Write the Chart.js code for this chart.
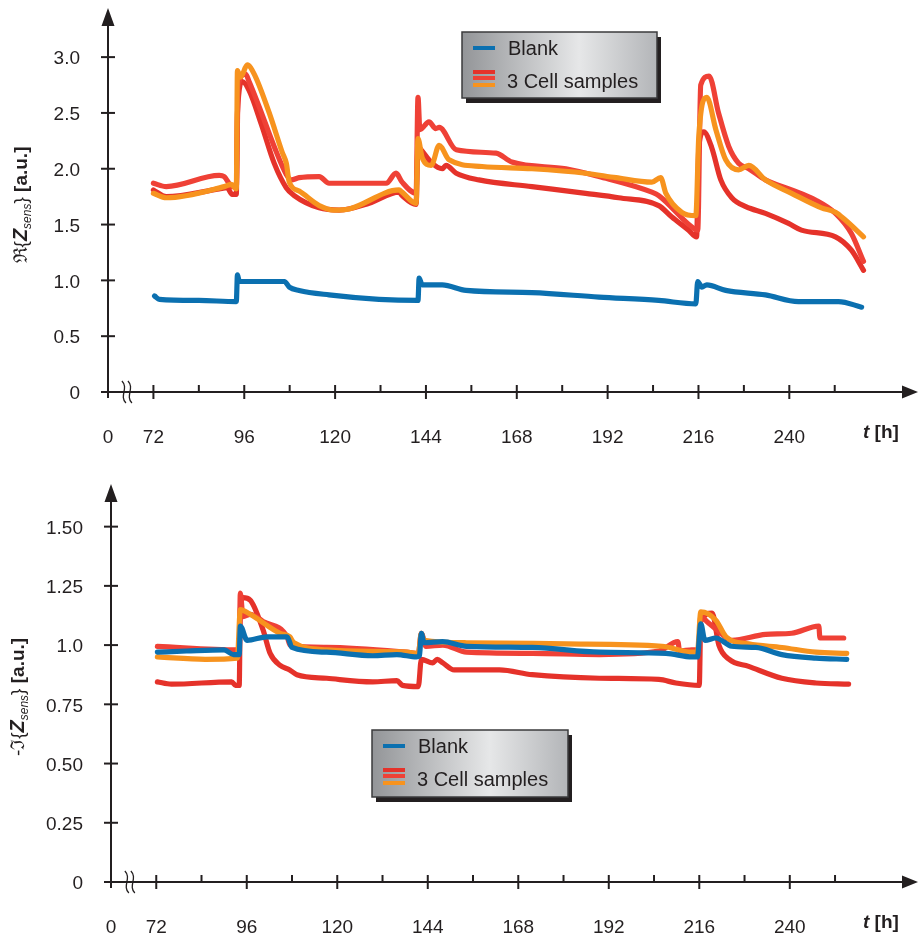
<!DOCTYPE html>
<html>
<head>
<meta charset="utf-8">
<title>Sensor impedance over time</title>
<script src="https://cdn.jsdelivr.net/npm/chart.js@4/dist/chart.umd.min.js"></script>
<style>
  body { margin: 0; background: #fff; }
  canvas { display: block; }
</style>
</head>
<body>
<canvas id="reChart" width="919" height="465"></canvas>
<canvas id="imChart" width="919" height="474"></canvas>
<script>
// axis ticks (hours), the "0" sits left of the axis break
const originHour = 60;
const hourTicks = [72, 96, 120, 144, 168, 192, 216, 240];
const minorHourTicks = [84, 108, 132, 156, 180, 204, 228, 252];
const reTicks = [0, 0.5, 1.0, 1.5, 2.0, 2.5, 3.0];
const reTickLabels = ["0", "0.5", "1.0", "1.5", "2.0", "2.5", "3.0"];
const imTicks = [0, 0.25, 0.5, 0.75, 1.0, 1.25, 1.5];
const imTickLabels = ["0", "0.25", "0.50", "0.75", "1.0", "1.25", "1.50"];
const seriesNames = ["Blank", "3 Cell samples"];

// real part
const reBlankT = [72.3, 73.6, 84, 93.9, 94.2, 94.7, 106.6, 107.9, 110.5, 118.4, 131.6, 141.9, 142.2, 143, 148.3, 154.6, 172, 189.7, 205.5, 215.3, 215.8, 216.9, 218.2, 223.2, 233.7, 242.4, 253, 259.1];
const reBlankV = [0.86, 0.83, 0.82, 0.81, 1.05, 0.99, 0.99, 0.94, 0.91, 0.87, 0.83, 0.82, 1.02, 0.96, 0.96, 0.91, 0.89, 0.85, 0.82, 0.79, 0.99, 0.94, 0.96, 0.91, 0.87, 0.81, 0.81, 0.76];

const reCellAT = [72, 75.4, 89.4, 90.7, 92.8, 93.9, 94.4, 96.3, 97.3, 100, 103.9, 107.1, 108.4, 110.5, 115.8, 118.4, 133.5, 136.1, 137.7, 141.4, 141.9, 142.4, 144.8, 146.6, 147.5, 152, 162.5, 166.7, 181, 189.7, 203.7, 205.5, 214.2, 215.8, 216.6, 218.8, 221.3, 224, 226.6, 229.3, 233.7, 240.6, 246.9, 252.2, 256.4, 259.6];
const reCellAV = [1.87, 1.84, 1.94, 1.93, 1.84, 1.84, 2.75, 2.85, 2.78, 2.55, 2.2, 1.95, 1.9, 1.92, 1.93, 1.87, 1.87, 1.96, 1.88, 1.78, 2.64, 2.35, 2.42, 2.36, 2.37, 2.17, 2.14, 2.06, 2.0, 1.93, 1.79, 1.76, 1.48, 1.45, 2.75, 2.83, 2.5, 2.2, 2.05, 2.0, 1.9, 1.81, 1.72, 1.6, 1.42, 1.17];

const reCellBT = [72, 75.4, 89.4, 91.5, 92.8, 93.9, 94.2, 95.5, 97.3, 100.5, 103.9, 107.1, 109.2, 115.8, 121.1, 129, 136.9, 137.7, 141.4, 141.9, 142.7, 145.6, 148.3, 149.3, 152, 158, 172, 186.2, 194.9, 205.5, 208.9, 213.4, 215.5, 216.1, 217.4, 219.5, 221.9, 224.8, 228.5, 233.7, 239.8, 243.2, 252.2, 256.4, 259.6];
const reCellBV = [1.81, 1.75, 1.82, 1.83, 1.77, 1.77, 2.5, 2.78, 2.7, 2.4, 2.05, 1.83, 1.76, 1.65, 1.63, 1.69, 1.79, 1.76, 1.68, 2.2, 2.17, 2.05, 2.0, 2.03, 1.96, 1.9, 1.84, 1.78, 1.74, 1.67, 1.57, 1.45, 1.39, 2.2, 2.33, 2.19, 1.9, 1.74, 1.66, 1.6, 1.51, 1.45, 1.39, 1.27, 1.09];

const reCellCT = [72, 75.4, 90.7, 92.6, 93.9, 94.2, 95, 96.8, 98.6, 102.6, 106, 107.1, 107.9, 110.5, 115.8, 119.8, 123.7, 136.9, 137.7, 141.4, 141.9, 143, 145.4, 147.5, 150.1, 158.8, 172, 186.2, 194.2, 203.7, 206, 207.4, 211.6, 215.3, 216.1, 218.2, 220.6, 223.2, 226.6, 229.3, 233.7, 240.6, 248.5, 252.2, 254.8, 259.6];
const reCellCV = [1.78, 1.74, 1.84, 1.86, 1.82, 2.88, 2.82, 2.93, 2.85, 2.5, 2.15, 2.05, 1.88, 1.8, 1.67, 1.63, 1.64, 1.81, 1.79, 1.69, 2.27, 2.1, 2.03, 2.21, 2.08, 2.02, 2.0, 1.96, 1.92, 1.88, 1.92, 1.78, 1.61, 1.58, 2.3, 2.64, 2.35, 2.08, 1.99, 2.03, 1.9, 1.78, 1.65, 1.61, 1.54, 1.39];

// negative imaginary part
const imBlankT = [72.3, 80, 90, 92.5, 94, 94.3, 96.1, 101.4, 106.7, 108, 117.2, 129.4, 135.8, 141, 141.8, 142.3, 143, 147.9, 154.3, 171.7, 189.5, 207.2, 214.1, 215.5, 216.4, 217.5, 220.4, 224.6, 231, 237.9, 246.9, 255.1];
const imBlankV = [0.97, 0.975, 0.98, 0.96, 0.96, 1.08, 1.02, 1.035, 1.035, 0.99, 0.97, 0.955, 0.96, 0.95, 0.955, 1.05, 1.01, 1.015, 0.995, 0.99, 0.97, 0.965, 0.95, 0.95, 1.09, 1.02, 1.03, 0.995, 0.99, 0.96, 0.945, 0.94];

const imCellAT = [72.3, 93.5, 94, 94.3, 95, 96.9, 100.3, 106.7, 107.5, 117.2, 138.4, 141.5, 142.3, 143.5, 148, 154.3, 171.7, 189.5, 205.3, 210.3, 210.8, 214, 215.8, 216.4, 218, 221, 224.6, 233.6, 240.5, 247.7, 248, 254.3];
const imCellAV = [0.995, 0.98, 0.98, 1.22, 1.12, 1.13, 1.1, 1.035, 1.0, 0.99, 0.97, 0.965, 1.05, 0.995, 1.0, 0.97, 0.965, 0.96, 0.975, 1.015, 0.975, 0.98, 0.98, 1.12, 1.1, 1.06, 1.02, 1.045, 1.05, 1.08, 1.03, 1.03];

const imCellBT = [72.3, 76, 92, 93, 94, 94.3, 95, 96.9, 100.3, 102.2, 104.8, 107.4, 109.3, 117.2, 129.4, 135.8, 137.3, 141.5, 142.3, 145.3, 146.5, 148, 151, 163, 171.7, 189.5, 205.3, 209.8, 216, 216.4, 219.4, 221.2, 223.9, 229.1, 237.9, 246.9, 255.6];
const imCellBV = [0.845, 0.835, 0.845, 0.83, 0.83, 1.15, 1.2, 1.19, 1.065, 0.965, 0.915, 0.895, 0.875, 0.86, 0.845, 0.85, 0.83, 0.825, 0.94, 0.925, 0.94, 0.925, 0.895, 0.895, 0.875, 0.86, 0.855, 0.84, 0.83, 1.1, 1.135, 1.0, 0.94, 0.91, 0.86, 0.84, 0.835];

const imCellCT = [72.3, 85, 93.5, 94.3, 96.9, 104.8, 107.4, 108.5, 117.2, 138.4, 141.5, 142.3, 143, 154.3, 180.7, 206.1, 214.1, 215.5, 216.4, 220.4, 223.1, 229.1, 237.9, 246.9, 255.1];
const imCellCV = [0.95, 0.94, 0.945, 1.15, 1.13, 1.05, 1.035, 1.01, 0.98, 0.97, 0.965, 1.05, 1.02, 1.01, 1.005, 0.995, 0.97, 0.97, 1.14, 1.105, 1.035, 1.005, 0.99, 0.97, 0.965];

const BLUE = "#0b70b0";
const RED_A = "#ef4136";
const RED_B = "#e5322a";
const ORANGE = "#f7931e";
const INK = "#231f20";
const FONT = '"Liberation Sans", Arial, sans-serif';

function pts(t, v) {
  return t.map((h, i) => ({ x: h, y: v[i] }));
}

function line(label, color, data) {
  return {
    label: label,
    data: data,
    borderColor: color,
    borderWidth: 5.2,
    borderCapStyle: "round",
    borderJoinStyle: "round",
    pointRadius: 0,
    cubicInterpolationMode: "monotone",
    fill: false,
  };
}

// text made of several differently styled pieces, optionally rotated
function drawRuns(ctx, runs, cx, cy, rotate) {
  ctx.save();
  ctx.translate(cx, cy);
  if (rotate) ctx.rotate(-Math.PI / 2);
  let total = 0;
  runs.forEach((r) => {
    ctx.font = r.font;
    r.w = ctx.measureText(r.text).width;
    total += r.w;
  });
  let x = rotate ? -total / 2 : 0;
  ctx.textBaseline = "alphabetic";
  ctx.textAlign = "left";
  runs.forEach((r) => {
    ctx.font = r.font;
    ctx.fillText(r.text, x, 7 + (r.dy || 0));
    x += r.w;
  });
  ctx.restore();
}

function drawLegend(ctx, box) {
  ctx.save();
  ctx.fillStyle = INK;
  ctx.fillRect(box.x + 4, box.y + 5, box.w, box.h);
  const g = ctx.createLinearGradient(box.x, 0, box.x + box.w, 0);
  g.addColorStop(0, "#939598");
  g.addColorStop(0.6, "#e6e7e8");
  g.addColorStop(1, "#b3b5b8");
  ctx.fillStyle = g;
  ctx.fillRect(box.x, box.y, box.w, box.h);
  ctx.strokeStyle = "#3b3b3d";
  ctx.lineWidth = 1.5;
  ctx.strokeRect(box.x, box.y, box.w, box.h);

  const sx = box.x + 11;
  ctx.fillStyle = BLUE;
  ctx.fillRect(sx, box.y + 14, 22, 4);
  ctx.fillStyle = RED_B;
  ctx.fillRect(sx, box.y + 38, 22, 4);
  ctx.fillStyle = RED_A;
  ctx.fillRect(sx, box.y + 44, 22, 4);
  ctx.fillStyle = ORANGE;
  ctx.fillRect(sx, box.y + 51, 22, 4);

  ctx.fillStyle = INK;
  ctx.font = "20px " + FONT;
  ctx.textAlign = "left";
  ctx.textBaseline = "middle";
  ctx.fillText(seriesNames[0], box.x + 46, box.y + 17);
  ctx.fillText(seriesNames[1], box.x + 45, box.y + 50);
  ctx.restore();
}

function axesPlugin(cfg) {
  return {
    id: "arrowAxes",
    beforeDatasetsDraw(chart) {
      const ctx = chart.ctx;
      const xs = chart.scales.x;
      const ys = chart.scales.y;
      const x0 = xs.getPixelForValue(originHour);
      const y0 = ys.getPixelForValue(0);
      const top = chart.chartArea.top;
      const right = chart.chartArea.right;
      ctx.save();
      ctx.strokeStyle = INK;
      ctx.fillStyle = INK;
      ctx.lineWidth = 2;

      ctx.beginPath();
      ctx.moveTo(x0, y0 + 6);
      ctx.lineTo(x0, top + 14);
      ctx.moveTo(x0 - 7, y0);
      ctx.lineTo(right - 12, y0);
      ctx.stroke();

      ctx.beginPath();
      ctx.moveTo(x0, top);
      ctx.lineTo(x0 - 6.5, top + 18);
      ctx.lineTo(x0 + 6.5, top + 18);
      ctx.closePath();
      ctx.moveTo(right, y0);
      ctx.lineTo(right - 16, y0 - 6.5);
      ctx.lineTo(right - 16, y0 + 6.5);
      ctx.closePath();
      ctx.fill();

      // y ticks and labels
      ctx.font = "19px " + FONT;
      ctx.textAlign = "right";
      ctx.textBaseline = "middle";
      cfg.yTicks.forEach((v, i) => {
        const py = ys.getPixelForValue(v);
        ctx.beginPath();
        ctx.moveTo(x0 - 7, py);
        ctx.lineTo(x0 + 7, py);
        ctx.stroke();
        ctx.fillText(cfg.yLabels[i], x0 - 28, py + 2);
      });

      // x ticks and labels
      ctx.textAlign = "center";
      const ly = y0 + 46;
      hourTicks.forEach((h) => {
        const px = xs.getPixelForValue(h);
        ctx.beginPath();
        ctx.moveTo(px, y0 - 7);
        ctx.lineTo(px, y0 + 7);
        ctx.stroke();
        ctx.fillText(String(h), px, ly);
      });
      minorHourTicks.forEach((h) => {
        const px = xs.getPixelForValue(h);
        ctx.beginPath();
        ctx.moveTo(px, y0 - 7);
        ctx.lineTo(px, y0);
        ctx.stroke();
      });
      ctx.fillText("0", x0, ly);

      // axis break
      const bx = xs.getPixelForValue(originHour + 5);
      ctx.lineWidth = 1.3;
      [-3, 3].forEach((dx) => {
        ctx.beginPath();
        ctx.moveTo(bx + dx - 2, y0 - 11);
        ctx.bezierCurveTo(bx + dx + 5, y0 - 4, bx + dx - 5, y0 + 4, bx + dx + 2, y0 + 11);
        ctx.stroke();
      });

      // axis titles
      drawRuns(ctx, [
        { text: "t", font: "italic bold 19px " + FONT },
        { text: " [h]", font: "bold 19px " + FONT },
      ], 863, ly - 7, false);
      drawRuns(ctx, cfg.yTitle, cfg.titleX, cfg.titleY, true);
      ctx.restore();
    },
    afterDraw(chart) {
      drawLegend(chart.ctx, cfg.legendBox);
    },
  };
}

function titleRuns(prefix) {
  return [
    { text: prefix + "{", font: "19px " + FONT },
    { text: "Z", font: "italic bold 20px " + FONT },
    { text: "sens", font: "italic 12px " + FONT, dy: 4 },
    { text: "} ", font: "19px " + FONT },
    { text: "[a.u.]", font: "bold 19px " + FONT },
  ];
}

function makeChart(id, datasets, yMax, padding, cfg) {
  return new Chart(document.getElementById(id), {
    type: "line",
    data: { datasets: datasets },
    options: {
      responsive: false,
      animation: false,
      layout: { padding: padding },
      scales: {
        x: { type: "linear", min: originHour, max: 274, display: false },
        y: { min: 0, max: yMax, display: false },
      },
      plugins: {
        legend: { display: false },
        tooltip: { enabled: false },
      },
    },
    plugins: [axesPlugin(cfg)],
  });
}

// dataset 0 is painted last, so blue sits on top
makeChart(
  "reChart",
  [
    line(seriesNames[0], BLUE, pts(reBlankT, reBlankV)),
    line(seriesNames[1], ORANGE, pts(reCellCT, reCellCV)),
    line(seriesNames[1], RED_A, pts(reCellAT, reCellAV)),
    line(seriesNames[1], RED_B, pts(reCellBT, reCellBV)),
  ],
  3.44,
  { left: 108, right: 1, top: 8, bottom: 73 },
  {
    yTicks: reTicks,
    yLabels: reTickLabels,
    yTitle: titleRuns("\u211c"),
    titleX: 20,
    titleY: 205,
    legendBox: { x: 462, y: 32, w: 195, h: 66 },
  }
);

makeChart(
  "imChart",
  [
    line(seriesNames[0], BLUE, pts(imBlankT, imBlankV)),
    line(seriesNames[1], ORANGE, pts(imCellCT, imCellCV)),
    line(seriesNames[1], RED_A, pts(imCellAT, imCellAV)),
    line(seriesNames[1], RED_B, pts(imCellBT, imCellBV)),
  ],
  1.68,
  { left: 111, right: 1, top: 19, bottom: 57 },
  {
    yTicks: imTicks,
    yLabels: imTickLabels,
    yTitle: titleRuns("-\u2111"),
    titleX: 17,
    titleY: 232,
    legendBox: { x: 372, y: 265, w: 196, h: 67 },
  }
);
</script>
</body>
</html>
